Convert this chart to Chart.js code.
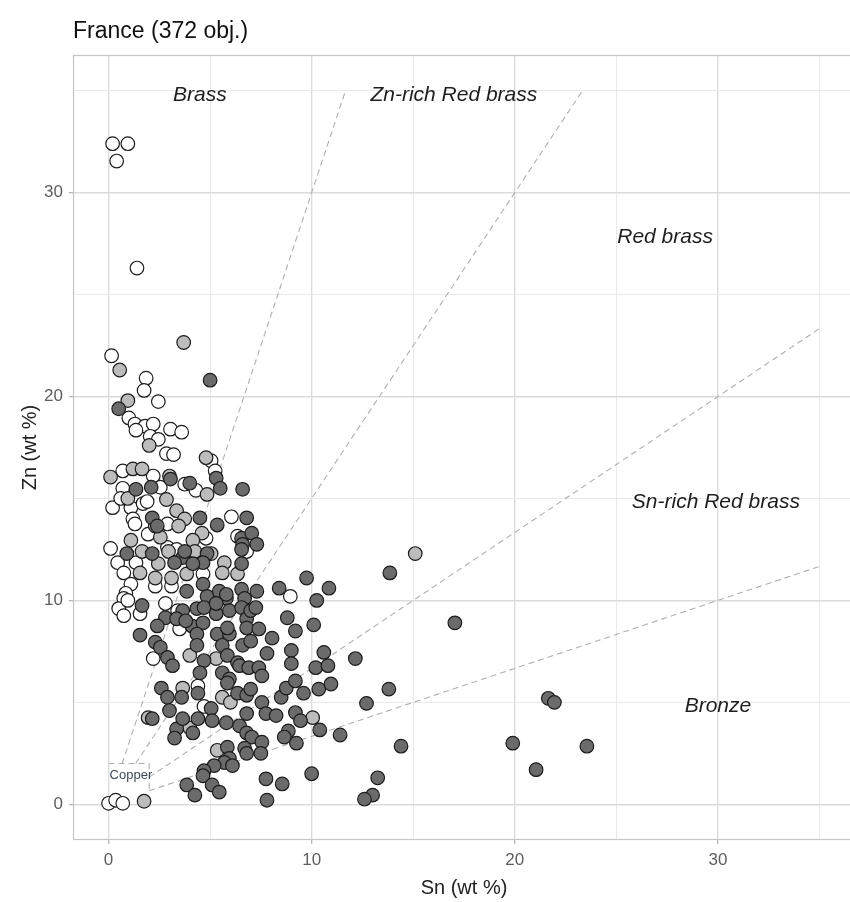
<!DOCTYPE html>
<html><head><meta charset="utf-8">
<script src="https://cdn.jsdelivr.net/npm/chart.js@4.4.1/dist/chart.umd.min.js"></script>
<style>html,body{margin:0;padding:0;overflow:hidden;background:#fff}canvas{display:block}</style>
</head><body>
<canvas id="c" width="863" height="902"></canvas>
<script>
// ---- data (Sn wt %, Zn wt %) ----
const whiteSn=[0.2,0.95,0.4,1.4,0.15,1.85,1.75,2.45,1.0,1.3,1.8,2.2,3.05,3.6,2.05,2.45,2.85,3.2,5.05,5.25,0.7,2.2,3.75,2.55,0.7,4.3,0.2,0.6,1.1,1.7,1.9,1.2,6.05,1.3,2.9,1.95,4.8,6.35,6.8,0.1,2.9,3.35,0.45,1.35,0.75,4.65,1.1,2.3,3.1,0.85,8.95,0.75,2.8,3.4,0.5,0.75,1.55,3.5,2.2,4.4,4.7,0,0.35,0.7,1.35,0.95];
const whiteZn=[32.4,32.4,31.55,26.3,22.0,20.9,20.3,19.75,18.95,18.65,18.55,18.65,18.4,18.25,18.05,17.9,17.2,17.15,16.85,16.35,16.35,16.1,15.7,15.55,15.5,15.4,14.55,15.0,14.55,14.75,14.85,14.0,14.1,13.75,13.75,13.25,13.05,13.15,12.4,12.55,12.6,12.5,11.85,11.85,11.35,11.3,10.8,10.7,10.7,10.35,10.2,10.1,9.85,9.5,9.6,9.25,9.35,8.6,7.15,5.8,4.8,0.05,0.2,0.05,18.35,10.0];

const lightSn=[0.55,3.7,0.95,2.0,4.8,0.1,1.2,1.65,3.0,4.85,0.95,2.85,3.35,3.75,2.3,3.45,2.55,4.6,1.1,1.65,4.15,5.05,2.95,2.45,5.7,1.55,2.3,3.1,3.85,5.6,6.35,4.25,4.0,5.3,3.65,5.6,6.0,1.95,4.0,5.35,1.75,10.05,15.1];
const lightZn=[21.3,22.65,19.8,17.6,17.0,16.05,16.45,16.45,16.1,15.2,15.0,14.95,14.4,14.0,13.65,13.65,13.1,13.3,12.95,12.4,12.95,12.3,12.4,11.8,11.85,11.35,11.1,11.1,11.3,11.35,11.3,12.4,7.3,7.15,5.7,5.25,5.0,4.25,3.75,2.65,0.15,4.25,12.3];

const darkSn=[5.0,0.5,3.05,4.0,5.3,5.5,6.6,1.35,2.1,2.15,4.5,5.35,6.8,2.4,6.55,6.6,7.05,7.3,0.9,2.15,3.65,4.85,3.75,4.65,6.55,6.55,3.25,4.15,4.65,3.85,4.85,5.45,5.8,6.55,6.7,7.3,8.4,9.75,10.85,10.25,1.65,3.65,4.35,4.7,5.3,5.95,6.55,6.8,7.0,7.25,5.8,8.8,10.1,2.8,3.35,2.4,4.1,4.65,5.35,5.95,4.35,1.55,2.3,2.55,4.35,5.6,6.6,2.9,4.7,5.85,6.35,3.15,4.5,5.6,5.95,6.8,7.4,8.05,9.2,7.0,7.8,6.45,6.9,7.4,7.55,9.0,9.0,10.6,10.2,10.8,12.15,2.6,2.9,3.6,4.4,5.85,6.35,6.8,7.0,7.55,8.5,8.75,9.2,9.6,10.35,10.95,13.8,12.7,3.0,5.05,6.8,7.75,8.25,9.2,9.45,8.85,10.4,11.4,14.4,2.15,3.35,3.65,4.4,5.1,5.8,6.45,6.8,7.05,7.55,3.25,8.65,9.25,5.85,5.95,6.7,6.8,7.5,5.7,6.1,5.2,4.7,4.65,3.85,4.25,5.1,5.45,7.75,8.55,7.8,10.0,13.25,13.0,12.6,4.15,19.9,21.05,21.65,21.95,23.55,17.05,13.85,5.3,3.8,5.85];
const darkZn=[20.8,19.4,15.95,15.75,16.0,15.5,15.45,15.45,15.55,14.05,14.05,13.7,14.05,13.65,13.05,12.75,13.3,12.75,12.3,12.3,12.1,12.3,12.4,11.85,11.8,12.5,11.85,11.8,10.8,10.45,10.2,10.45,10.1,10.55,10.1,10.45,10.6,11.1,10.6,10.0,9.75,9.5,9.6,9.65,9.35,9.5,9.65,9.1,9.5,9.65,10.3,9.15,8.8,9.15,9.1,8.75,8.75,8.9,8.35,8.35,8.35,8.3,7.95,7.7,7.8,7.8,7.8,7.2,7.05,7.3,6.95,6.8,6.45,6.45,6.15,8.65,8.6,8.15,8.5,8.0,7.4,6.8,6.7,6.7,6.3,7.55,6.9,7.45,6.7,6.8,7.15,5.7,5.25,5.25,5.45,5.95,5.45,5.35,5.65,5.0,5.25,5.7,6.05,5.45,5.65,5.9,5.65,4.95,4.6,4.7,4.45,4.45,4.35,4.5,4.1,3.6,3.65,3.4,2.85,4.2,3.7,4.2,4.2,4.1,4.0,3.85,3.5,3.3,3.05,3.25,3.3,3.0,2.8,2.25,2.75,2.5,2.5,2.05,1.9,1.9,1.65,1.4,0.95,0.45,0.95,0.6,1.25,1.0,0.2,1.5,1.3,0.45,0.25,3.5,3.0,1.7,5.2,5.0,2.85,8.9,11.35,9.85,9.0,8.65];

// classification boundaries (start / end points, wt %)
const boundarySn=[[0.667,11.667],[1.333,23.333],[2,35],[2,35],[0,2,2]];
const boundaryZn=[[2,35],[2,35],[1.333,23.333],[0.667,11.667],[2,2,0.667]];

// region labels
const regionNames=['Brass','Zn-rich Red brass','Red brass','Sn-rich Red brass','Bronze'];
const regionSn=[4.5,17,27.4,29.9,30];
const regionZn=[34.8,34.8,27.8,14.8,4.8];
const copperLabel='Copper', copperSn=1.1, copperZn=1.4;

const FONT='"Liberation Sans", Arial, sans-serif';
const zip=(a,b)=>a.map((v,i)=>({x:v,y:b[i]}));

const pointStyle=(fill,order)=>({
  pointRadius:6.8, pointBorderWidth:1.2, pointBorderColor:'#1c1c1c',
  pointBackgroundColor:fill, backgroundColor:fill, borderColor:'#1c1c1c',
  showLine:false, order:order
});

const lineSets=boundarySn.map((sn,i)=>({
  type:'line', data:zip(sn,boundaryZn[i]), showLine:true, fill:false,
  borderColor:'#b0b0b0', borderWidth:1.1, borderDash:[6,4], pointRadius:0, tension:0, order:10
}));

const panelPlugin={
  id:'panel',
  afterDatasetsDraw(chart){
    const {ctx,chartArea:a,scales:{x,y}}=chart;
    ctx.save();
    ctx.fillStyle='#1e1e1e';
    ctx.font='italic 21px '+FONT;
    ctx.textAlign='center'; ctx.textBaseline='middle';
    regionNames.forEach((t,i)=>ctx.fillText(t,x.getPixelForValue(regionSn[i]),y.getPixelForValue(regionZn[i])));
    ctx.font='13px '+FONT; ctx.fillStyle='#3d4a56';
    ctx.fillText(copperLabel,x.getPixelForValue(copperSn),y.getPixelForValue(copperZn));
    ctx.strokeStyle='#c6c6c6'; ctx.lineWidth=1.2;
    ctx.strokeRect(a.left+0.5,a.top+0.5,a.right-a.left-1,a.bottom-a.top-1);
    ctx.restore();
  }
};

const isMajor=c=>c.tick && Math.abs(c.tick.value%10)<1e-6;
const axis=(title,fit,tpad)=>({
  type:'linear', min:-1.75, max:36.75,
  border:{display:false},
  grid:{
    color:c=>isMajor(c)?'#dcdcdc':'#eaeaea',
    lineWidth:c=>isMajor(c)?1.4:1.1,
    drawTicks:true, tickLength:4,
    tickColor:c=>isMajor(c)?'#b0b0b0':'rgba(0,0,0,0)', tickWidth:1.2
  },
  ticks:{stepSize:5, includeBounds:false, autoSkip:false, maxRotation:0,
    callback:v=>Math.abs(v%10)<1e-6?String(v):'',
    font:{family:FONT,size:17}, color:'#5e5e5e', padding:6},
  title:{display:true,text:title,font:{family:FONT,size:20},color:'#222',padding:tpad},
  afterFit:fit
});

new Chart(document.getElementById('c'),{
  type:'scatter',
  data:{datasets:[
    ...lineSets,
    Object.assign({label:'white',data:zip(whiteSn,whiteZn)},pointStyle('#ffffff',3)),
    Object.assign({label:'light',data:zip(lightSn,lightZn)},pointStyle('#bcbcbc',2)),
    Object.assign({label:'dark',data:zip(darkSn,darkZn)},pointStyle('#6b6b6b',1))
  ]},
  options:{
    responsive:false, animation:false, events:[],
    layout:{padding:0},
    plugins:{
      legend:{display:false}, tooltip:{enabled:false},
      title:{display:true,text:'France (372 obj.)',align:'start',fullSize:false,
        font:{family:FONT,size:23,weight:'normal'},color:'#111',padding:{top:18,bottom:9.4}}
    },
    scales:{
      x:axis('Sn (wt %)',s=>{s.height=62;},{top:0,bottom:2}),
      y:axis('Zn (wt %)',s=>{s.width=73;},{top:18,bottom:0})
    }
  },
  plugins:[panelPlugin]
});
</script>
</body></html>
